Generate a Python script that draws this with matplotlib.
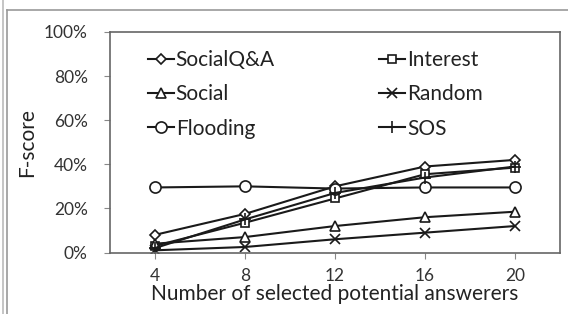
import matplotlib
matplotlib.use("Agg")
import matplotlib.pyplot as plt
from matplotlib.lines import Line2D

plt.rcParams['font.family'] = ['Lato', 'DejaVu Sans']

x_vals = [4, 8, 12, 16, 20]
x_labels = ['4', '8', '12', '16', '20']
social_qa = [8, 17.5, 30, 39, 42]
interest = [3, 13.5, 24.5, 35.5, 38.5]
social = [4, 7, 12, 16, 18.5]
random_ = [1, 2.5, 6, 9, 12]
flooding = [29.5, 30, 29, 29.5, 29.5]
sos = [2, 15, 27, 34, 39]
y_ticks = [0, 20, 40, 60, 80, 100]
y_labels = ['0%', '20%', '40%', '60%', '80%', '100%']

W, H = 568, 314
fig = plt.figure(figsize=(W / 100, H / 100), dpi=100)
ax = fig.add_axes([110 / W, (H - 252.5) / H, 450 / W, 220.5 / H])

series = [
    ('SocialQ&A', social_qa, 'D', 5),
    ('Interest', interest, 's', 6),
    ('Social', social, '^', 7),
    ('Random', random_, 'x', 7),
    ('Flooding', flooding, 'o', 8),
    ('SOS', sos, '+', 8),
]
handles = {}
for name, vals, mk, ms in series:
    h, = ax.plot(x_vals, vals, color='#1a1a1a', lw=1.5, marker=mk, ms=ms,
                 mfc='white', mec='#1a1a1a', mew=1.2, label=name)
    handles[name] = h

ax.set_xlim(2, 22)
ax.set_ylim(0, 100)
ax.set_xticks(x_vals)
ax.set_xticklabels(x_labels)
ax.set_yticks(y_ticks)
ax.set_yticklabels(y_labels)
ax.tick_params(axis='both', direction='out', length=4, color='#888888',
               labelsize=12.5, labelcolor='#333333')
ax.tick_params(axis='x', pad=7)
ax.tick_params(axis='y', pad=12)
for s in ax.spines.values():
    s.set_color('#666666')
    s.set_linewidth(1.2)

ax.set_xlabel('Number of selected potential answerers', fontsize=15,
              color='#222222', labelpad=0)
ax.set_ylabel('F-score', fontsize=15, color='#222222', labelpad=5)

order = ['SocialQ&A', 'Social', 'Flooding', 'Interest', 'Random', 'SOS']
leg = ax.legend([handles[n] for n in order], order, ncol=2, frameon=False,
                loc='upper left', bbox_to_anchor=(0.065, 0.955),
                fontsize=15, handlelength=1.25, handletextpad=0.1,
                columnspacing=5.0, labelspacing=0.68, borderaxespad=0)
for t in leg.get_texts():
    t.set_color('#222222')

# outer screenshot frame
fig.add_artist(Line2D([3 / W, 3 / W], [0, 1], color='#bbbbbb', lw=1.2))
fig.add_artist(Line2D([7 / W, 7 / W], [0, (H - 10) / H], color='#999999', lw=1.2))
fig.add_artist(Line2D([7 / W, 1], [(H - 10) / H, (H - 10) / H], color='#999999', lw=1.2))

fig.savefig('out.png', dpi=100)
